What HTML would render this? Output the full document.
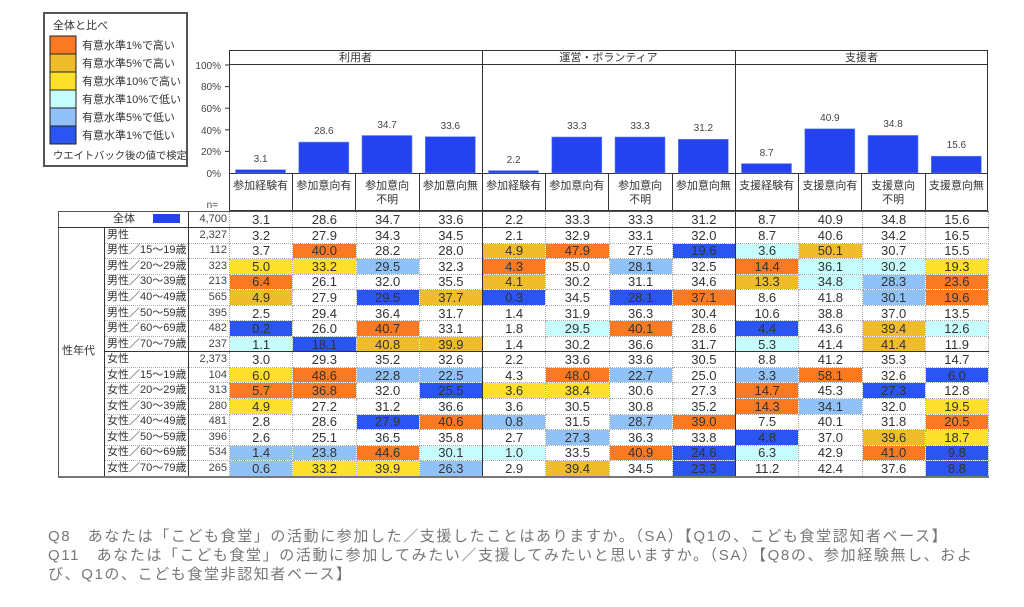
<!DOCTYPE html>
<html><head><meta charset="utf-8">
<style>
body{margin:0;width:1024px;height:607px;background:#fff;position:relative;overflow:hidden;font-family:"Liberation Sans","Noto Sans CJK JP",sans-serif;color:#333}
svg{position:absolute;left:0;top:0}
table{position:absolute;left:58px;top:211px;border-collapse:collapse;table-layout:fixed;width:930px;font-size:13px}
td{padding:0;height:14.55px;line-height:13px;text-align:center;border:1px dotted #aaa;white-space:nowrap;overflow:hidden;color:#333}
td.l{text-align:left;font-size:11px;padding-left:2px;border-left:1px solid #333;border-right:1px solid #333}
td.n{text-align:right;font-size:11px;padding-right:2px;color:#444}
td.s{text-align:left;vertical-align:middle;font-size:11px;padding-left:3px;border:1px solid #555;border-right:1px solid #333}
td.g{border-right:1px solid #333}
tr.top td{border-top:1px solid #333}
tr.first td{height:15px;border-top:1px solid #555;border-bottom:1px solid #333}
.o{background:#f97a22}.G{background:#efbd2c}.y{background:#fde02a}.c{background:#c6fcfc}.b{background:#90c2f8}.B{background:#2a55f0}
.foot{position:absolute;left:48px;font-size:15px;color:#777;white-space:nowrap;letter-spacing:1.6px}
</style></head><body>
<svg width="1024" height="607" font-family="Liberation Sans, Noto Sans CJK JP, sans-serif">
<rect x="44" y="13" width="143" height="153" fill="#fff" stroke="#555" stroke-width="2"/>
<text x="53" y="29" font-size="11" fill="#333">全体と比べ</text>
<g stroke="#222" stroke-width="1">
<rect x="50" y="36" width="26" height="18" fill="#f97a22"/>
<rect x="50" y="54" width="26" height="18" fill="#efbd2c"/>
<rect x="50" y="72" width="26" height="18" fill="#fde02a"/>
<rect x="50" y="90" width="26" height="18" fill="#c6fcfc"/>
<rect x="50" y="108" width="26" height="18" fill="#90c2f8"/>
<rect x="50" y="126" width="26" height="18" fill="#2a55f0"/>
</g>
<g font-size="11" fill="#333">
<text x="82" y="49">有意水準1%で高い</text>
<text x="82" y="67">有意水準5%で高い</text>
<text x="82" y="85">有意水準10%で高い</text>
<text x="82" y="103">有意水準10%で低い</text>
<text x="82" y="121">有意水準5%で低い</text>
<text x="82" y="139">有意水準1%で低い</text>
<text x="53" y="159" font-size="10.3">ウエイトバック後の値で検定</text>
</g>
<g font-size="10" fill="#444" text-anchor="end">
<text x="221" y="69">100%</text><text x="221" y="90">80%</text><text x="221" y="112">60%</text>
<text x="221" y="134">40%</text><text x="221" y="155">20%</text><text x="221" y="177">0%</text>
<text x="218" y="208">n=</text>
</g>
<g stroke="#333" fill="none" stroke-width="1">
<rect x="229.5" y="50.5" width="758" height="160"/>
<line x1="229" y1="64.5" x2="988" y2="64.5"/>
<line x1="229" y1="173.5" x2="988" y2="173.5"/>
<line x1="482.5" y1="50" x2="482.5" y2="211"/>
<line x1="735.5" y1="50" x2="735.5" y2="211"/>
<line x1="292.5" y1="173" x2="292.5" y2="211"/><line x1="355.5" y1="173" x2="355.5" y2="211"/><line x1="419.5" y1="173" x2="419.5" y2="211"/>
<line x1="545.5" y1="173" x2="545.5" y2="211"/><line x1="608.5" y1="173" x2="608.5" y2="211"/><line x1="672.5" y1="173" x2="672.5" y2="211"/>
<line x1="798.5" y1="173" x2="798.5" y2="211"/><line x1="861.5" y1="173" x2="861.5" y2="211"/><line x1="925.5" y1="173" x2="925.5" y2="211"/>
<line x1="225" y1="65" x2="229" y2="65"/><line x1="225" y1="86.6" x2="229" y2="86.6"/><line x1="225" y1="108.2" x2="229" y2="108.2"/><line x1="225" y1="129.8" x2="229" y2="129.8"/><line x1="225" y1="151.4" x2="229" y2="151.4"/>
</g>
<g font-size="11" fill="#333" text-anchor="middle">
<text x="355.5" y="61">利用者</text><text x="608.5" y="61">運営・ボランティア</text><text x="861.5" y="61">支援者</text>
</g>
<g fill="#2443ee" stroke="#6c88f5" stroke-width="0.6">
<rect x="235.5" y="169.7" width="50" height="3.3"/>
<rect x="298.8" y="142.1" width="50" height="30.9"/>
<rect x="362" y="135.5" width="50" height="37.5"/>
<rect x="425.3" y="136.7" width="50" height="36.3"/>
<rect x="488.5" y="170.6" width="50" height="2.4"/>
<rect x="551.8" y="137" width="50" height="36"/>
<rect x="615" y="137" width="50" height="36"/>
<rect x="678.3" y="139.3" width="50" height="33.7"/>
<rect x="741.5" y="163.6" width="50" height="9.4"/>
<rect x="804.8" y="128.8" width="50" height="44.2"/>
<rect x="868" y="135.4" width="50" height="37.6"/>
<rect x="931.3" y="156.2" width="50" height="16.8"/>
</g>
<g font-size="10" fill="#444" text-anchor="middle">
<text x="260.6" y="162">3.1</text><text x="323.9" y="134">28.6</text><text x="387.1" y="128">34.7</text><text x="450.4" y="129">33.6</text>
<text x="513.6" y="163">2.2</text><text x="576.9" y="129">33.3</text><text x="640.1" y="129">33.3</text><text x="703.4" y="131">31.2</text>
<text x="766.6" y="156">8.7</text><text x="829.9" y="121">40.9</text><text x="893.1" y="127">34.8</text><text x="956.4" y="148">15.6</text>
</g>
<g font-size="11" fill="#333" text-anchor="middle">
<text x="260.6" y="189">参加経験有</text><text x="323.9" y="189">参加意向有</text><text x="387.1" y="189">参加意向</text><text x="387.1" y="203">不明</text><text x="450.4" y="189">参加意向無</text>
<text x="513.6" y="189">参加経験有</text><text x="576.9" y="189">参加意向有</text><text x="640.1" y="189">参加意向</text><text x="640.1" y="203">不明</text><text x="703.4" y="189">参加意向無</text>
<text x="766.6" y="189">支援経験有</text><text x="829.9" y="189">支援意向有</text><text x="893.1" y="189">支援意向</text><text x="893.1" y="203">不明</text><text x="956.4" y="189">支援意向無</text>
</g>
</svg>
<table>
<colgroup><col style="width:46px"><col style="width:84px"><col style="width:41px"><col span="12" style="width:63.25px"></colgroup>
<tr class="first"><td colspan="2" style="border-left:1px solid #555;border-right:1px solid #333;font-size:11px;text-align:left;padding-left:54px">全体<span style="display:inline-block;width:27px;height:9px;background:#2443ee;margin-left:18px;vertical-align:-1px"></span></td><td class="n">4,700</td><td>3.1</td><td>28.6</td><td>34.7</td><td class="g">33.6</td><td>2.2</td><td>33.3</td><td>33.3</td><td class="g">31.2</td><td>8.7</td><td>40.9</td><td>34.8</td><td>15.6</td></tr>
<tr><td class="s" rowspan="16">性年代</td><td class="l">男性</td><td class="n">2,327</td><td>3.2</td><td>27.9</td><td>34.3</td><td class="g">34.5</td><td>2.1</td><td>32.9</td><td>33.1</td><td class="g">32.0</td><td>8.7</td><td>40.6</td><td>34.2</td><td>16.5</td></tr>
<tr><td class="l">男性／15～19歳</td><td class="n">112</td><td>3.7</td><td class="o">40.0</td><td>28.2</td><td class="g">28.0</td><td class="G">4.9</td><td class="o">47.9</td><td>27.5</td><td class="B g">19.6</td><td class="c">3.6</td><td class="G">50.1</td><td>30.7</td><td>15.5</td></tr>
<tr><td class="l">男性／20～29歳</td><td class="n">323</td><td class="y">5.0</td><td class="y">33.2</td><td class="b">29.5</td><td class="g">32.3</td><td class="o">4.3</td><td>35.0</td><td class="b">28.1</td><td class="g">32.5</td><td class="o">14.4</td><td class="c">36.1</td><td class="c">30.2</td><td class="y">19.3</td></tr>
<tr><td class="l">男性／30～39歳</td><td class="n">213</td><td class="o">6.4</td><td>26.1</td><td>32.0</td><td class="g">35.5</td><td class="G">4.1</td><td>30.2</td><td>31.1</td><td class="g">34.6</td><td class="G">13.3</td><td class="c">34.8</td><td class="b">28.3</td><td class="o">23.6</td></tr>
<tr><td class="l">男性／40～49歳</td><td class="n">565</td><td class="G">4.9</td><td>27.9</td><td class="B">29.5</td><td class="G g">37.7</td><td class="B">0.3</td><td>34.5</td><td class="B">28.1</td><td class="o g">37.1</td><td>8.6</td><td>41.8</td><td class="b">30.1</td><td class="o">19.6</td></tr>
<tr><td class="l">男性／50～59歳</td><td class="n">395</td><td>2.5</td><td>29.4</td><td>36.4</td><td class="g">31.7</td><td>1.4</td><td>31.9</td><td>36.3</td><td class="g">30.4</td><td>10.6</td><td>38.8</td><td>37.0</td><td>13.5</td></tr>
<tr><td class="l">男性／60～69歳</td><td class="n">482</td><td class="B">0.2</td><td>26.0</td><td class="o">40.7</td><td class="g">33.1</td><td>1.8</td><td class="c">29.5</td><td class="o">40.1</td><td class="g">28.6</td><td class="B">4.4</td><td>43.6</td><td class="G">39.4</td><td class="c">12.6</td></tr>
<tr><td class="l">男性／70～79歳</td><td class="n">237</td><td class="c">1.1</td><td class="B">18.1</td><td class="G">40.8</td><td class="G g">39.9</td><td>1.4</td><td>30.2</td><td>36.6</td><td class="g">31.7</td><td class="c">5.3</td><td>41.4</td><td class="G">41.4</td><td>11.9</td></tr>
<tr class="top"><td class="l">女性</td><td class="n">2,373</td><td>3.0</td><td>29.3</td><td>35.2</td><td class="g">32.6</td><td>2.2</td><td>33.6</td><td>33.6</td><td class="g">30.5</td><td>8.8</td><td>41.2</td><td>35.3</td><td>14.7</td></tr>
<tr><td class="l">女性／15～19歳</td><td class="n">104</td><td class="y">6.0</td><td class="o">48.6</td><td class="b">22.8</td><td class="b g">22.5</td><td>4.3</td><td class="o">48.0</td><td class="b">22.7</td><td class="g">25.0</td><td class="b">3.3</td><td class="o">58.1</td><td>32.6</td><td class="B">6.0</td></tr>
<tr><td class="l">女性／20～29歳</td><td class="n">313</td><td class="o">5.7</td><td class="o">36.8</td><td>32.0</td><td class="B g">25.5</td><td class="y">3.6</td><td class="y">38.4</td><td>30.6</td><td class="g">27.3</td><td class="o">14.7</td><td>45.3</td><td class="B">27.3</td><td>12.8</td></tr>
<tr><td class="l">女性／30～39歳</td><td class="n">280</td><td class="y">4.9</td><td>27.2</td><td>31.2</td><td class="g">36.6</td><td>3.6</td><td>30.5</td><td>30.8</td><td class="g">35.2</td><td class="o">14.3</td><td class="b">34.1</td><td>32.0</td><td class="y">19.5</td></tr>
<tr><td class="l">女性／40～49歳</td><td class="n">481</td><td>2.8</td><td>28.6</td><td class="B">27.9</td><td class="o g">40.6</td><td class="b">0.8</td><td>31.5</td><td class="b">28.7</td><td class="o g">39.0</td><td>7.5</td><td>40.1</td><td>31.8</td><td class="o">20.5</td></tr>
<tr><td class="l">女性／50～59歳</td><td class="n">396</td><td>2.6</td><td>25.1</td><td>36.5</td><td class="g">35.8</td><td>2.7</td><td class="b">27.3</td><td>36.3</td><td class="g">33.8</td><td class="B">4.8</td><td>37.0</td><td class="G">39.6</td><td class="y">18.7</td></tr>
<tr><td class="l">女性／60～69歳</td><td class="n">534</td><td class="b">1.4</td><td class="b">23.8</td><td class="o">44.6</td><td class="c g">30.1</td><td class="c">1.0</td><td>33.5</td><td class="o">40.9</td><td class="B g">24.6</td><td class="c">6.3</td><td>42.9</td><td class="o">41.0</td><td class="B">9.8</td></tr>
<tr style="border-bottom:2px solid #777"><td class="l">女性／70～79歳</td><td class="n">265</td><td class="b">0.6</td><td class="y">33.2</td><td class="y">39.9</td><td class="b g">26.3</td><td>2.9</td><td class="G">39.4</td><td>34.5</td><td class="B g">23.3</td><td>11.2</td><td>42.4</td><td>37.6</td><td class="B">8.8</td></tr>
</table>
<div class="foot" style="top:525px">Q8　あなたは「こども食堂」の活動に参加した／支援したことはありますか。（SA）【Q1の、こども食堂認知者ベース】</div>
<div class="foot" style="top:544px">Q11　あなたは「こども食堂」の活動に参加してみたい／支援してみたいと思いますか。（SA）【Q8の、参加経験無し、およ</div>
<div class="foot" style="top:563px">び、Q1の、こども食堂非認知者ベース】</div>
</body></html>
